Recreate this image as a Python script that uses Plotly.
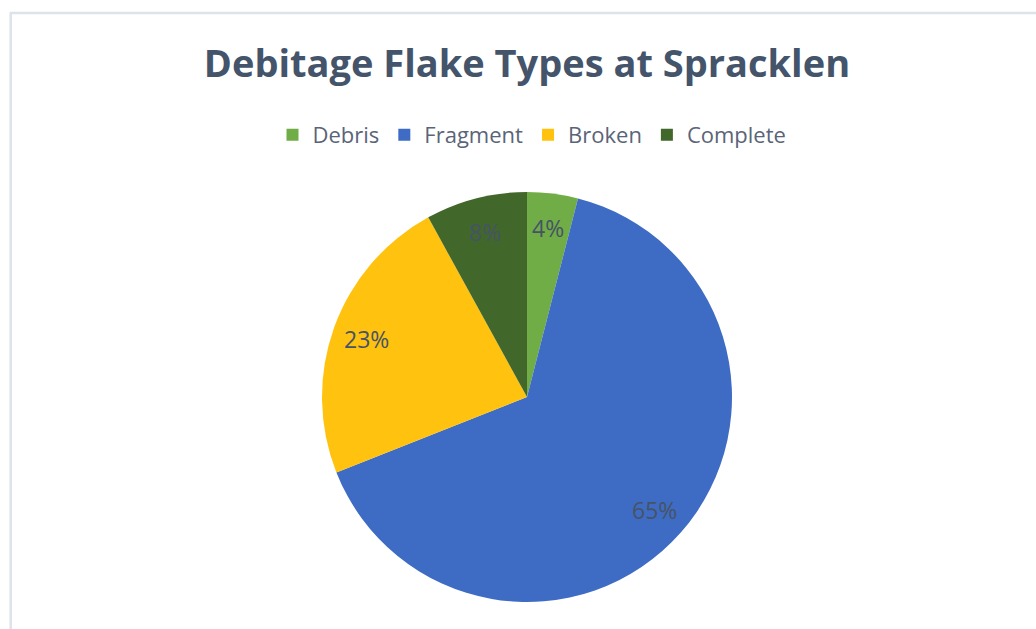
import math
import plotly.graph_objects as go

categories = ["Debris", "Fragment", "Broken", "Complete"]
values = [4, 65, 23, 8]
colors = ["#70AD47", "#3E6CC4", "#FFC20E", "#42672B"]

W, H = 1036, 629
cx, cy, r = 527, 397, 205
label_radius_frac = 0.83

fig = go.Figure(go.Pie(
    labels=categories,
    values=values,
    sort=False,
    direction="clockwise",
    rotation=0,
    marker=dict(colors=colors, line=dict(width=0)),
    textinfo="none",
    domain=dict(x=[(cx - r) / W, (cx + r) / W], y=[1 - (cy + r) / H, 1 - (cy - r) / H]),
    hoverinfo="label+percent",
))

# data labels placed along each slice's bisector (computed from the values)
total = sum(values)
annotations = []
cum = 0.0
for cat, v in zip(categories, values):
    mid = (cum + v / 2) / total * 2 * math.pi
    cum += v
    px = cx + label_radius_frac * r * math.sin(mid)
    py = cy - label_radius_frac * r * math.cos(mid)
    annotations.append(dict(
        x=px / W, y=1 - py / H, xref="paper", yref="paper",
        text=f"{round(v / total * 100)}%", showarrow=False,
        xanchor="center", yanchor="middle",
        font=dict(family="Open Sans", size=23, color="#465366"),
    ))

fig.update_layout(
    width=W, height=H,
    margin=dict(l=0, r=0, t=0, b=0),
    paper_bgcolor="white",
    plot_bgcolor="white",
    title=dict(
        text="<b>Debitage Flake Types at Spracklen</b>",
        x=527 / W, xanchor="center",
        y=1 - 64 / H, yanchor="middle",
        font=dict(family="Open Sans", size=38, color="#44546A"),
    ),
    legend=dict(
        orientation="h",
        x=532 / W, xanchor="center",
        y=1 - 135 / H, yanchor="middle",
        font=dict(family="Open Sans", size=22, color="#5a6478"),
        itemsizing="constant",
        traceorder="normal",
    ),
    showlegend=True,
    annotations=annotations,
    shapes=[
        dict(type="line", xref="paper", yref="paper", x0=10.7 / W, x1=10.7 / W, y0=0, y1=1 - 12 / H,
             line=dict(color="#dde3ec", width=2.5)),
        dict(type="line", xref="paper", yref="paper", x0=10 / W, x1=1, y0=1 - 13 / H, y1=1 - 13 / H,
             line=dict(color="#dde3ec", width=2.5)),
    ],
)

fig.write_html("out.html")
